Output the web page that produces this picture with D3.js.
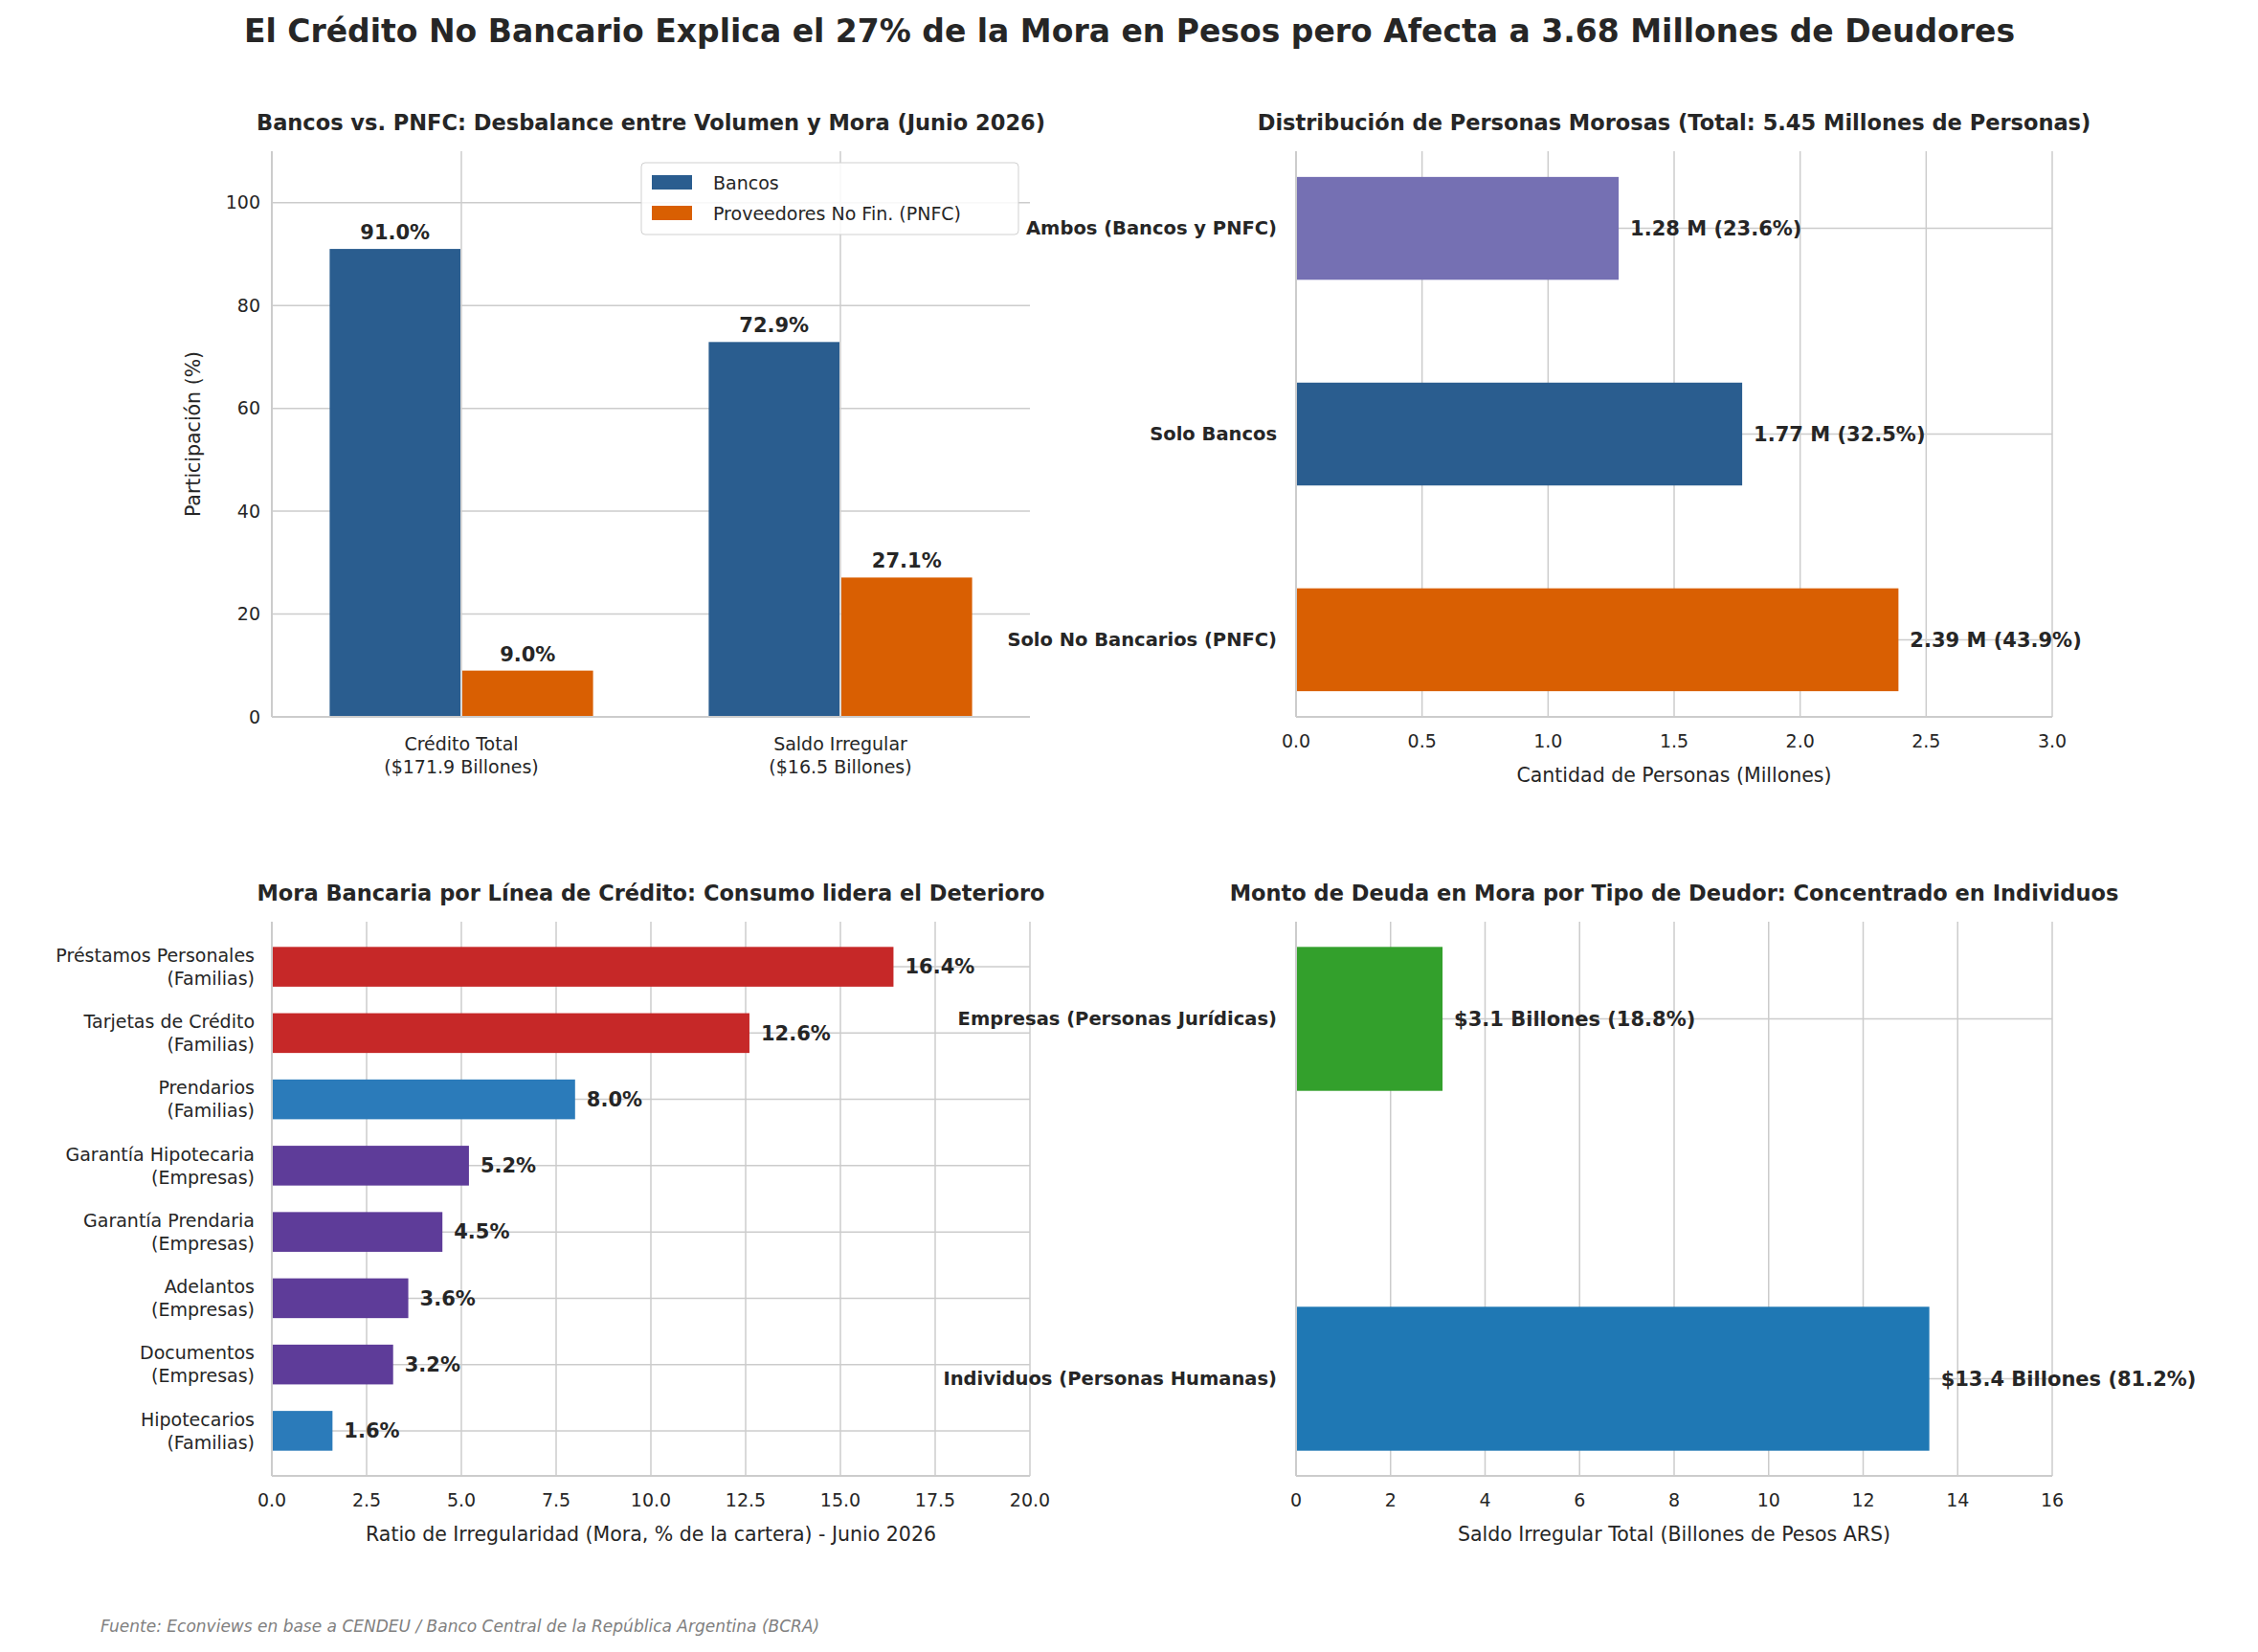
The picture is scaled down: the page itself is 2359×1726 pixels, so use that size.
<!DOCTYPE html><html><head><meta charset="utf-8">
<script src="https://cdn.jsdelivr.net/npm/d3@7"></script>
<style>body{margin:0;background:#fff}text{font-family:"DejaVu Sans",sans-serif;fill:#262626}</style></head><body>
<svg id="c" width="2359" height="1726"></svg>
<script>
const p1Cats=["Crédito Total|($171.9 Billones)","Saldo Irregular|($16.5 Billones)"];
const p1Bancos=[91.0,72.9];
const p1PNFC=[9.0,27.1];
const p1Ticks=[0,20,40,60,80,100];
const p2Cats=["Solo No Bancarios (PNFC)","Solo Bancos","Ambos (Bancos y PNFC)"];
const p2Vals=[2.39,1.77,1.28];
const p2Pct=[43.9,32.5,23.6];
const p2Colors=["#d95f02","#2a5d8f","#7570b3"];
const p3Cats=["Hipotecarios|(Familias)","Documentos|(Empresas)","Adelantos|(Empresas)","Garantía Prendaria|(Empresas)","Garantía Hipotecaria|(Empresas)","Prendarios|(Familias)","Tarjetas de Crédito|(Familias)","Préstamos Personales|(Familias)"];
const p3Vals=[1.6,3.2,3.6,4.5,5.2,8.0,12.6,16.4];
const p3Colors=["#2b7bba","#5e3c99","#5e3c99","#5e3c99","#5e3c99","#2b7bba","#c62828","#c62828"];
const p4Cats=["Individuos (Personas Humanas)","Empresas (Personas Jurídicas)"];
const p4Vals=[13.4,3.1];
const p4Pct=[81.2,18.8];
const p4Colors=["#1f78b4","#33a02c"];

const svg=d3.select("#c");
const G="#cccccc";
svg.append("text").attr("x",1180).attr("y",44).attr("text-anchor","middle").attr("font-size",33).attr("font-weight","bold").text("El Crédito No Bancario Explica el 27% de la Mora en Pesos pero Afecta a 3.68 Millones de Deudores");
svg.append("text").attr("x",105).attr("y",1705).attr("font-size",17).attr("font-style","italic").style("fill","#808080").text("Fuente: Econviews en base a CENDEU / Banco Central de la República Argentina (BCRA)");

function frame(L,R,T,B,title){
  const g=svg.append("g");
  g.append("text").attr("x",(L+R)/2).attr("y",T-22).attr("text-anchor","middle").attr("font-size",22.5).attr("font-weight","bold").text(title);
  return g;
}
function spines(g,L,R,T,B){
  g.append("line").attr("x1",L).attr("x2",L).attr("y1",T).attr("y2",B).attr("stroke",G).attr("stroke-width",2);
  g.append("line").attr("x1",L).attr("x2",R).attr("y1",B).attr("y2",B).attr("stroke",G).attr("stroke-width",2);
}
function multi(g,x,y,str,anchor,fs,bold,lh){
  const parts=str.split("|");const t=g.append("text").attr("text-anchor",anchor).attr("font-size",fs).attr("font-weight",bold?"bold":"normal");
  const y0=y-(parts.length-1)*lh/2;
  parts.forEach((p,i)=>t.append("tspan").attr("x",x).attr("y",y0+i*lh).attr("dy","0.35em").text(p));
}
// Panel 1
{const L=284,R=1076,T=158,B=749;const g=frame(L,R,T,B,"Bancos vs. PNFC: Desbalance entre Volumen y Mora (Junio 2026)");
 const x=d3.scaleLinear().domain([-0.5,1.5]).range([L,R]);const y=d3.scaleLinear().domain([0,110]).range([B,T]);
 p1Ticks.forEach(t=>{g.append("line").attr("x1",L).attr("x2",R).attr("y1",y(t)).attr("y2",y(t)).attr("stroke",G).attr("stroke-width",1.5);
  g.append("text").attr("x",L-12).attr("y",y(t)).attr("dy","0.35em").attr("text-anchor","end").attr("font-size",19).text(t);});
 p1Cats.forEach((c,i)=>{g.append("line").attr("x1",x(i)).attr("x2",x(i)).attr("y1",T).attr("y2",B).attr("stroke",G).attr("stroke-width",1.5);
  multi(g,x(i),B+40,c,"middle",19,false,24);});
 const w=x(0.35)-x(0);
 [[p1Bancos,"#2a5d8f",-1],[p1PNFC,"#d95f02",1]].forEach(([vals,col,s])=>vals.forEach((v,i)=>{
  const cx=x(i+s*0.175);
  g.append("rect").attr("x",cx-w/2+1).attr("width",w-2).attr("y",y(v)).attr("height",y(0)-y(v)).attr("fill",col);
  g.append("text").attr("x",cx).attr("y",y(v)-10).attr("text-anchor","middle").attr("font-size",21).attr("font-weight","bold").text(v.toFixed(1)+"%");}));
 spines(g,L,R,T,B);
 g.append("text").attr("transform",`translate(${L-75},${(T+B)/2}) rotate(-90)`).attr("text-anchor","middle").attr("font-size",20.5).text("Participación (%)");
 const lg=g.append("g").attr("transform","translate(670,170)");
 lg.append("rect").attr("width",394).attr("height",75).attr("fill","white").attr("fill-opacity",0.85).attr("stroke","#d0d0d0").attr("rx",4);
 [["Bancos","#2a5d8f"],["Proveedores No Fin. (PNFC)","#d95f02"]].forEach(([t,c],i)=>{
  lg.append("rect").attr("x",11).attr("y",13+i*32).attr("width",42).attr("height",15).attr("fill",c);
  lg.append("text").attr("x",75).attr("y",21+i*32).attr("dy","0.35em").attr("font-size",19).text(t);});
}
// Panel 2
{const L=1354,R=2144,T=158,B=749;const g=frame(L,R,T,B,"Distribución de Personas Morosas (Total: 5.45 Millones de Personas)");
 const x=d3.scaleLinear().domain([0,3]).range([L,R]);const y=d3.scaleLinear().domain([-0.375,2.375]).range([B,T]);
 x.ticks(6).forEach(t=>{g.append("line").attr("x1",x(t)).attr("x2",x(t)).attr("y1",T).attr("y2",B).attr("stroke",G).attr("stroke-width",1.5);
  g.append("text").attr("x",x(t)).attr("y",B+32).attr("text-anchor","middle").attr("font-size",19).text(t.toFixed(1));});
 p2Cats.forEach((c,i)=>{g.append("line").attr("x1",L).attr("x2",R).attr("y1",y(i)).attr("y2",y(i)).attr("stroke",G).attr("stroke-width",1.5);});
 p2Vals.forEach((v,i)=>{const h=y(0)-y(0.5);
  g.append("rect").attr("x",x(0)).attr("y",y(i)-h/2).attr("width",x(v)-x(0)).attr("height",h).attr("fill",p2Colors[i]);
  g.append("text").attr("x",x(v)+12).attr("y",y(i)).attr("dy","0.35em").attr("font-size",21).attr("font-weight","bold").text(v.toFixed(2)+" M ("+p2Pct[i]+"%)");
  g.append("text").attr("x",L-20).attr("y",y(i)).attr("dy","0.35em").attr("text-anchor","end").attr("font-size",19.5).attr("font-weight","bold").text(p2Cats[i]);});
 spines(g,L,R,T,B);
 g.append("text").attr("x",(L+R)/2).attr("y",B+68).attr("text-anchor","middle").attr("font-size",20.5).text("Cantidad de Personas (Millones)");
}
// Panel 3
{const L=284,R=1076,T=963,B=1542;const g=frame(L,R,T,B,"Mora Bancaria por Línea de Crédito: Consumo lidera el Deterioro");
 const x=d3.scaleLinear().domain([0,20]).range([L,R]);const y=d3.scaleLinear().domain([-0.68,7.68]).range([B,T]);
 d3.range(0,20.1,2.5).forEach(t=>{g.append("line").attr("x1",x(t)).attr("x2",x(t)).attr("y1",T).attr("y2",B).attr("stroke",G).attr("stroke-width",1.5);
  g.append("text").attr("x",x(t)).attr("y",B+32).attr("text-anchor","middle").attr("font-size",19).text(t.toFixed(1));});
 p3Cats.forEach((c,i)=>{g.append("line").attr("x1",L).attr("x2",R).attr("y1",y(i)).attr("y2",y(i)).attr("stroke",G).attr("stroke-width",1.5);});
 p3Vals.forEach((v,i)=>{const h=y(0)-y(0.6);
  g.append("rect").attr("x",x(0)).attr("y",y(i)-h/2).attr("width",x(v)-x(0)).attr("height",h).attr("fill",p3Colors[i]);
  g.append("text").attr("x",x(v)+12).attr("y",y(i)).attr("dy","0.35em").attr("font-size",21).attr("font-weight","bold").text(v.toFixed(1)+"%");
  multi(g,L-18,y(i),p3Cats[i],"end",19,false,24);});
 spines(g,L,R,T,B);
 g.append("text").attr("x",(L+R)/2).attr("y",B+68).attr("text-anchor","middle").attr("font-size",20.5).text("Ratio de Irregularidad (Mora, % de la cartera) - Junio 2026");
}
// Panel 4
{const L=1354,R=2144,T=963,B=1542;const g=frame(L,R,T,B,"Monto de Deuda en Mora por Tipo de Deudor: Concentrado en Individuos");
 const x=d3.scaleLinear().domain([0,16]).range([L,R]);const y=d3.scaleLinear().domain([-0.27,1.27]).range([B,T]);
 x.ticks(8).forEach(t=>{g.append("line").attr("x1",x(t)).attr("x2",x(t)).attr("y1",T).attr("y2",B).attr("stroke",G).attr("stroke-width",1.5);
  g.append("text").attr("x",x(t)).attr("y",B+32).attr("text-anchor","middle").attr("font-size",19).text(t);});
 p4Cats.forEach((c,i)=>{g.append("line").attr("x1",L).attr("x2",R).attr("y1",y(i)).attr("y2",y(i)).attr("stroke",G).attr("stroke-width",1.5);});
 p4Vals.forEach((v,i)=>{const h=y(0)-y(0.4);
  g.append("rect").attr("x",x(0)).attr("y",y(i)-h/2).attr("width",x(v)-x(0)).attr("height",h).attr("fill",p4Colors[i]);
  g.append("text").attr("x",x(v)+12).attr("y",y(i)).attr("dy","0.35em").attr("font-size",21).attr("font-weight","bold").text("$"+v.toFixed(1)+" Billones ("+p4Pct[i]+"%)");
  g.append("text").attr("x",L-20).attr("y",y(i)).attr("dy","0.35em").attr("text-anchor","end").attr("font-size",19.5).attr("font-weight","bold").text(p4Cats[i]);});
 spines(g,L,R,T,B);
 g.append("text").attr("x",(L+R)/2).attr("y",B+68).attr("text-anchor","middle").attr("font-size",20.5).text("Saldo Irregular Total (Billones de Pesos ARS)");
}
</script></body></html>
